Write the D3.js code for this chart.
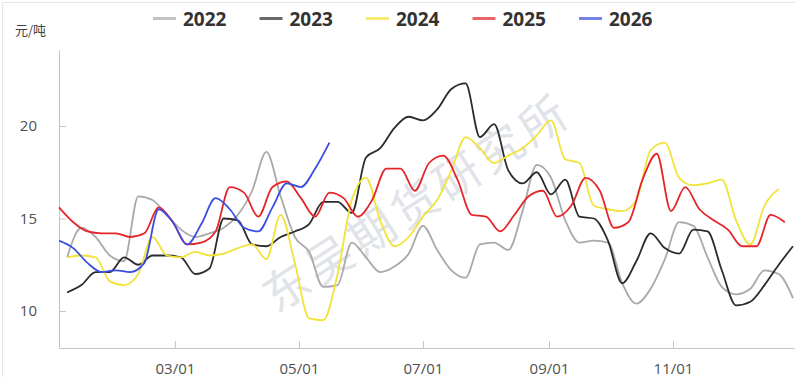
<!DOCTYPE html>
<html>
<head>
<meta charset="utf-8">
<script src="https://cdn.jsdelivr.net/npm/d3@7"></script>
<style>
  html, body { margin: 0; padding: 0; background: #fff; }
  svg { display: block; }
</style>
</head>
<body>
<svg id="chart" width="795" height="377"></svg>
<script>
// Weekly prices by year, 元/吨
const years = ["2022", "2023", "2024", "2025", "2026"];
const firstWeek = ["01-07", "01-07", "01-07", "01-03", "01-03"];

const v2022 = [12.9, 14.5, 14.0, 13.0, 12.7, 16.2, 16.0, 15.2, 14.4, 14.0, 14.2, 14.5, 15.2, 16.5, 18.6, 16.2,
  14.0, 13.2, 11.3, 11.4, 13.7, 12.9, 12.1, 12.4, 13.1, 14.6, 13.3, 12.2, 11.8, 13.6, 13.7, 13.3,
  15.4, 17.9, 17.2, 14.9, 13.7, 13.8, 13.7, 11.5, 10.4, 11.2, 12.8, 14.8, 14.6, 12.9, 11.3, 10.9,
  11.2, 12.2, 12.0, 10.7];
const v2023 = [11.0, 11.4, 12.1, 12.1, 12.9, 12.5, 13.0, 13.0, 12.9, 12.0, 12.3, 15.0, 14.9, 13.6, 13.5, 14.0,
  14.3, 14.7, 15.9, 15.9, 15.3, 18.3, 18.8, 19.9, 20.5, 20.3, 20.9, 22.0, 22.3, 19.4, 20.1, 17.6,
  16.9, 17.5, 16.3, 17.1, 15.1, 15.0, 13.8, 11.5, 12.7, 14.2, 13.4, 13.1, 14.4, 14.3, 12.2, 10.3,
  10.5, 11.4, 12.5, 13.5];
const v2024 = [12.9, 13.0, 12.9, 11.6, 11.4, 12.0, 14.0, 13.0, 12.9, 13.2, 13.0, 13.1, 13.4, 13.6, 12.8, 15.2,
  12.6, 9.6, 9.5, 12.0, 16.0, 17.2, 14.9, 13.5, 14.0, 15.1, 16.0, 17.6, 19.4, 18.8, 18.0, 18.4,
  18.8, 19.5, 20.3, 18.2, 18.0, 15.7, 15.5, 15.4, 16.0, 18.7, 19.1, 17.2, 16.8, 16.9, 17.1, 14.9,
  13.6, 15.7, 16.6];
const v2025 = [15.6, 14.8, 14.3, 14.2, 14.2, 14.0, 14.2, 15.6, 14.8, 13.6, 13.7, 14.3, 16.7, 16.4, 15.1, 16.7,
  17.0, 16.1, 15.1, 16.4, 16.1, 15.1, 16.0, 17.7, 17.7, 16.5, 18.0, 18.4, 17.1, 15.2, 15.1, 14.3,
  15.2, 16.2, 16.5, 15.1, 15.7, 17.2, 16.5, 14.5, 14.8, 17.1, 18.5, 15.4, 16.7, 15.5, 14.9, 14.4,
  13.5, 13.5, 15.2, 14.8];
const v2026 = [13.8, 13.4, 12.6, 12.1, 12.2, 12.1, 12.6, 15.5, 14.8, 13.6, 14.7, 16.1, 15.5, 14.5, 14.3, 15.6,
  16.9, 16.7, 17.7, 19.1];

const yTicks = [10, 15, 20];
const xTickLabels = ["03/01", "05/01", "07/01", "09/01", "11/01"];
const unitLabel = "元/吨";
const watermark = "东吴期货研究所";

// ---- styling ----
const seriesValues = [v2022, v2023, v2024, v2025, v2026];
const colors = ["#a9a9a9", "#2b2b2b", "#f2e33a", "#e5252a", "#3b4fe0"];
const baseYear = 2021; // a common non-leap year for the month/day axis
const parseMD = d3.timeParse("%Y-%m-%d");
const toDate = md => parseMD(baseYear + "-" + md);

const svg = d3.select("#chart");
const W = 795, H = 377;
const plot = { left: 59, right: 795, top: 52, bottom: 348 };

// outer frame
svg.append("path")
  .attr("d", `M2.5,${H} V2.5 H${W}`)
  .attr("fill", "none")
  .attr("stroke", "#e6e6e6");

const x = d3.scaleTime()
  .domain([toDate("01-03"), toDate("12-31")])
  .range([plot.left, plot.right]);
const y = d3.scaleLinear()
  .domain([8, 24])
  .range([plot.bottom, plot.top]);

// watermark
svg.append("text")
  .attr("transform", "translate(415,200) rotate(-33)")
  .attr("text-anchor", "middle")
  .attr("dominant-baseline", "central")
  .attr("font-family", "'Noto Sans CJK SC', sans-serif")
  .attr("font-size", 46)
  .attr("letter-spacing", 5)
  .attr("fill", "#cdd1da")
  .attr("opacity", 0.6)
  .text(watermark);

// axes
const axisColor = "#c4c4c4";
const tickFont = "'Open Sans', sans-serif";

const yAxis = svg.append("g")
  .attr("transform", `translate(${plot.left},0)`)
  .call(d3.axisLeft(y).tickValues(yTicks).tickSize(-7).tickSizeOuter(0).tickPadding(22));
yAxis.select(".domain").attr("stroke", axisColor).attr("d", `M0.5,${plot.top - 2}V${plot.bottom}`);
yAxis.selectAll(".tick line").attr("stroke", axisColor);
yAxis.selectAll(".tick text")
  .attr("fill", "#505050").attr("font-size", 15).attr("font-family", tickFont);

const xAxis = svg.append("g")
  .attr("transform", `translate(0,${plot.bottom})`)
  .call(d3.axisBottom(x)
    .tickValues(xTickLabels.map(s => toDate(s.replace("/", "-"))))
    .tickFormat(d3.timeFormat("%m/%d"))
    .tickSize(-7).tickSizeOuter(0).tickPadding(15));
xAxis.select(".domain").attr("stroke", axisColor);
xAxis.selectAll(".tick line").attr("stroke", axisColor);
xAxis.selectAll(".tick text")
  .attr("fill", "#505050").attr("font-size", 15).attr("font-family", tickFont);

// unit label
svg.append("text")
  .attr("x", 15).attr("y", 35)
  .attr("font-family", "'Noto Sans CJK SC', sans-serif")
  .attr("font-size", 13)
  .attr("fill", "#444")
  .text(unitLabel);

// series lines
const line = d3.line()
  .defined(d => d.v != null)
  .x(d => x(d.date))
  .y(d => y(d.v))
  .curve(d3.curveMonotoneX);

years.forEach((yr, k) => {
  const start = toDate(firstWeek[k]);
  const pts = seriesValues[k].map((v, i) => ({ date: d3.timeDay.offset(start, 7 * i), v }));
  svg.append("path")
    .datum(pts)
    .attr("fill", "none")
    .attr("stroke", colors[k])
    .attr("stroke-width", 1.8)
    .attr("stroke-linejoin", "round")
    .attr("d", line);
});

// legend
const legend = svg.append("g").attr("transform", "translate(153,0)");
years.forEach((yr, k) => {
  const g = legend.append("g").attr("transform", `translate(${k * 106.5},0)`);
  g.append("line")
    .attr("x1", 0).attr("x2", 23).attr("y1", 18.5).attr("y2", 18.5)
    .attr("stroke", colors[k]).attr("stroke-width", 3).attr("opacity", 0.7);
  g.append("text")
    .attr("x", 30).attr("y", 26)
    .attr("font-family", "'Open Sans', sans-serif")
    .attr("font-weight", 700)
    .attr("font-size", 19)
    .attr("fill", "#333")
    .text(yr);
});
</script>
</body>
</html>
